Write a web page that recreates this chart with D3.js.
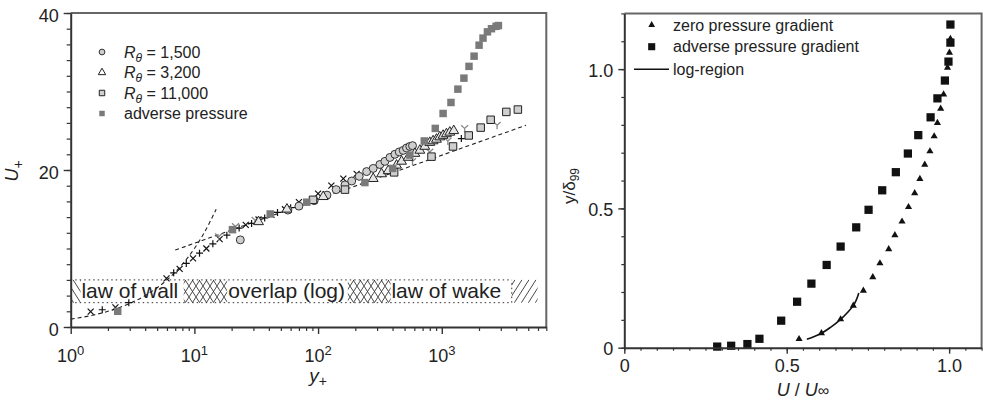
<!DOCTYPE html>
<html>
<head>
<meta charset="utf-8">
<script src="https://cdn.jsdelivr.net/npm/d3@7"></script>
<style>
  body { margin: 0; background: #fff; }
  svg { font-family: "Liberation Sans", Arial, sans-serif; }
</style>
</head>
<body>
<div id="chart"></div>
<script>
// ---- left panel data (y+ , U+) ----
var r1500Y = [23.5, 57, 70, 93, 118, 140, 165, 187, 215, 247, 279, 316, 347, 381, 418, 453, 488, 519, 552, 580];
var r1500U = [11.1, 14.9, 15.4, 16.1, 16.8, 17.5, 18.1, 18.6, 19.2, 19.8, 20.2, 20.7, 21.1, 21.6, 22.0, 22.3, 22.5, 22.8, 23.0, 23.1];
var r3200Y = [33, 56, 110, 279, 326, 369, 431, 473, 535, 606, 665, 729, 800, 851, 906, 963, 1025, 1091, 1161, 1250];
var r3200U = [13.4, 15.0, 16.6, 18.9, 19.5, 19.9, 20.6, 21.1, 21.6, 22.1, 22.5, 23.0, 23.5, 23.7, 23.9, 24.2, 24.4, 24.6, 24.8, 25.0];
var r11kY = [91, 165, 412, 826, 1233, 1652, 2064, 2485, 3326, 4124];
var r11kU = [16.2, 17.5, 19.7, 21.7, 23.0, 24.4, 25.4, 26.4, 27.4, 27.7];
var advY = [2.4, 20.3, 41, 81, 239, 401, 552, 722, 886, 1025, 1187, 1350, 1510, 1660, 1825, 2003, 2155, 2340, 2522, 2750, 2870];
var advU = [2.0, 12.4, 14.4, 15.9, 18.4, 20.2, 21.9, 23.7, 25.3, 27.2, 28.6, 30.3, 31.7, 33.2, 34.5, 35.9, 36.8, 37.6, 38.0, 38.3, 38.4];
var crossY = [1.45, 2.3, 5.95, 7.6, 9.75, 12.5, 16, 20.5, 26, 33, 42, 54, 70, 100, 128, 160, 205];
var crossU = [1.95, 2.5, 6.2, 7.4, 8.75, 10.0, 11.2, 12.4, 13.0, 13.7, 14.3, 15.0, 15.9, 17.0, 18.0, 18.9, 19.5];
var plusY = [1.8, 2.95, 6.8, 8.6, 11, 14.1, 18.3, 23, 29, 37, 47, 60, 1440];
var plusU = [2.2, 3.1, 6.9, 8.1, 9.4, 10.6, 11.7, 12.6, 13.2, 13.9, 14.6, 15.2, 24.0];
var forkY = [15.7, 21.5, 31, 580, 800, 1120, 1530, 2800];
var forkU = [11.5, 12.8, 13.6, 21.1, 22.3, 23.7, 25.3, 25.7];

// dashed reference lines
var viscY = [1, 1.5, 2, 3, 4, 5, 6, 8, 10, 12, 15];
var viscU = [1, 1.5, 2, 3, 4, 5, 6, 8, 10, 12, 15];
var logLawY = [7, 4800];
var logLawU = [9.8, 25.7];

// region band
var bandLow = 3.1, bandHigh = 6.0, bandEnd = 3680;
var hatchFrom = [1, 8.2, 174, 3680];
var hatchTo = [1.2, 18.4, 386, 5950];
var hatchKind = ["back", "cross", "cross", "fwd"];
var bandLabels = ["law of wall", "overlap (log)", "law of wake"];
var bandLabelAt = [1.22, 18.8, 392];

var legendLeft = ["1,500", "3,200", "11,000", "adverse pressure"];

// ---- right panel data (U/Uinf , y/delta99) ----
var zpgU = [0.538, 0.607, 0.666, 0.705, 0.736, 0.765, 0.787, 0.814, 0.833, 0.855, 0.875, 0.894, 0.910, 0.925, 0.941, 0.954, 0.964, 0.974, 0.983, 0.989, 0.995, 1.001, 1.004];
var zpgY = [0.031, 0.052, 0.102, 0.151, 0.205, 0.253, 0.303, 0.354, 0.404, 0.453, 0.505, 0.555, 0.606, 0.657, 0.705, 0.759, 0.807, 0.858, 0.909, 0.957, 1.005, 1.059, 1.109];
var apgU = [0.286, 0.329, 0.379, 0.416, 0.483, 0.532, 0.576, 0.623, 0.666, 0.714, 0.752, 0.794, 0.836, 0.873, 0.905, 0.943, 0.964, 0.987, 0.998, 1.004, 1.004];
var apgY = [0.004, 0.007, 0.013, 0.032, 0.097, 0.165, 0.230, 0.297, 0.363, 0.432, 0.495, 0.565, 0.630, 0.697, 0.763, 0.827, 0.895, 0.959, 1.027, 1.095, 1.16];
var logRegU = [0.562, 0.585, 0.607, 0.637, 0.666, 0.690, 0.705, 0.722];
var logRegY = [0.030, 0.040, 0.052, 0.075, 0.102, 0.130, 0.151, 0.196];
var legendRight = ["zero pressure gradient", "adverse pressure gradient", "log-region"];

function zip(a, b) { return a.map(function (v, i) { return [v, b[i]]; }); }

var svg = d3.select("#chart").append("svg")
    .attr("width", 983).attr("height", 401);

var axisCol = "#333", frameCol = "#666";

// hatch patterns
var defs = svg.append("defs");
function pattern(id, d) {
    defs.append("pattern").attr("id", id)
        .attr("patternUnits", "userSpaceOnUse")
        .attr("width", 7).attr("height", 11)
        .append("path").attr("d", d)
        .attr("stroke", "#333").attr("stroke-width", 0.9).attr("fill", "none");
}
pattern("back", "M0,0L7,11M-7,0L0,11M7,0L14,11");
pattern("fwd", "M0,11L7,0M-7,11L0,0M7,11L14,0");
pattern("cross", "M0,0L7,11M7,0L0,11");

// ================= LEFT PANEL =================
var xL = d3.scaleLog().domain([1, 7000]).range([70.7, 546.3]);
var yL = d3.scaleLinear().domain([0, 40]).range([327, 13]);
var gL = svg.append("g");

// band with hatching
hatchFrom.forEach(function (f, i) {
    gL.append("rect")
        .attr("x", xL(f)).attr("width", xL(hatchTo[i]) - xL(f))
        .attr("y", yL(bandHigh)).attr("height", yL(bandLow) - yL(bandHigh))
        .attr("fill", "url(#" + hatchKind[i] + ")");
});
[bandLow, bandHigh].forEach(function (v) {
    gL.append("line")
        .attr("x1", xL(1)).attr("x2", xL(bandEnd))
        .attr("y1", yL(v)).attr("y2", yL(v))
        .attr("stroke", "#333").attr("stroke-width", 1).attr("stroke-dasharray", "1.5,3");
});
gL.append("line")
    .attr("x1", xL(bandEnd)).attr("x2", xL(bandEnd))
    .attr("y1", yL(bandLow)).attr("y2", yL(bandHigh))
    .attr("stroke", "#333").attr("stroke-width", 1).attr("stroke-dasharray", "1.5,3");
bandLabels.forEach(function (t, i) {
    gL.append("text").attr("x", xL(bandLabelAt[i])).attr("y", yL(bandLow) - 4.5)
        .attr("font-size", 21).attr("fill", "#222").text(t);
});

// dashed lines
var lineL = d3.line().x(function (d) { return xL(d[0]); }).y(function (d) { return yL(d[1]); });
gL.append("path").datum(zip(viscY, viscU)).attr("d", lineL.curve(d3.curveMonotoneX))
    .attr("fill", "none").attr("stroke", "#222").attr("stroke-width", 1.1).attr("stroke-dasharray", "4,3");
gL.append("path").datum(zip(logLawY, logLawU)).attr("d", d3.line().x(function (d) { return xL(d[0]); }).y(function (d) { return yL(d[1]); }))
    .attr("fill", "none").attr("stroke", "#222").attr("stroke-width", 1.1).attr("stroke-dasharray", "4,3");

// markers
var crossPath = "M-3,-3L3,3M-3,3L3,-3";
var plusPath = "M-3.5,0L3.5,0M0,-3.5L0,3.5";
var forkPath = "M0,0L0,4M0,0L-3.5,-3.2M0,0L3.5,-3.2";

function drawPath(g, data, xs, ys, d, col, w) {
    g.selectAll(null).data(data).enter().append("path")
        .attr("transform", function (p) { return "translate(" + xs(p[0]) + "," + ys(p[1]) + ")"; })
        .attr("d", d).attr("fill", "none").attr("stroke", col).attr("stroke-width", w);
}
function drawSym(g, data, xs, ys, type, size, fill, stroke, w) {
    g.selectAll(null).data(data).enter().append("path")
        .attr("transform", function (p) { return "translate(" + xs(p[0]) + "," + ys(p[1]) + ")"; })
        .attr("d", d3.symbol().type(type).size(size)())
        .attr("fill", fill).attr("stroke", stroke).attr("stroke-width", w);
}

drawPath(gL, zip(crossY, crossU), xL, yL, crossPath, "#111", 1.2);
drawPath(gL, zip(plusY, plusU), xL, yL, plusPath, "#111", 1.2);
drawPath(gL, zip(forkY, forkU), xL, yL, forkPath, "#888", 1.3);
drawSym(gL, zip(r1500Y, r1500U), xL, yL, d3.symbolCircle, 50, "#cfcfcf", "#333", 1);
drawSym(gL, zip(r3200Y, r3200U), xL, yL, d3.symbolTriangle, 42, "#e6e6e6", "#222", 1);
drawSym(gL, zip(r11kY, r11kU), xL, yL, d3.symbolSquare, 56, "#cfcfcf", "#222", 1);
drawSym(gL, zip(advY, advU), xL, yL, d3.symbolSquare, 56, "#7a7a7a", "none", 0);

// frame (top, right)
gL.append("path")
    .attr("d", "M" + xL.range()[0] + "," + yL.range()[1] + "H" + xL.range()[1] + "V" + yL.range()[0])
    .attr("fill", "none").attr("stroke", frameCol).attr("stroke-width", 2);

// axes
var minorX = [];
[1, 10, 100, 1000].forEach(function (dec) {
    for (var m = 2; m <= 9; m++) if (dec * m <= 7000) minorX.push(dec * m);
});
var majorX = [1, 10, 100, 1000];
gL.append("g").attr("transform", "translate(0," + yL(0) + ")")
    .call(d3.axisBottom(xL).tickValues(minorX).tickSize(4).tickSizeOuter(0).tickFormat(""))
    .call(function (g) { g.select(".domain").remove(); g.selectAll("line").attr("stroke", axisCol).attr("stroke-width", 1.2); });
gL.append("g").attr("transform", "translate(0," + yL(0) + ")")
    .call(d3.axisBottom(xL).tickValues(majorX).tickSize(7).tickSizeOuter(0).tickFormat(""))
    .call(function (g) { g.select(".domain").attr("stroke", axisCol).attr("stroke-width", 2); g.selectAll("line").attr("stroke", axisCol).attr("stroke-width", 1.4); });
majorX.forEach(function (v, i) {
    var t = gL.append("text").attr("x", xL(v)).attr("y", 362).attr("text-anchor", "middle")
        .attr("font-size", 18).attr("fill", "#222");
    t.append("tspan").text("10");
    t.append("tspan").attr("dy", -7).attr("font-size", 13).text(String(i));
});

var minorY = d3.range(0, 41, 2);
gL.append("g").attr("transform", "translate(" + xL(1) + ",0)")
    .call(d3.axisLeft(yL).tickValues(minorY).tickSize(4).tickSizeOuter(0).tickFormat(""))
    .call(function (g) { g.select(".domain").attr("stroke", axisCol).attr("stroke-width", 2); g.selectAll("line").attr("stroke", axisCol).attr("stroke-width", 1.2); });
gL.append("g").attr("transform", "translate(" + xL(1) + ",0)")
    .call(d3.axisLeft(yL).tickValues([0, 20, 40]).tickSize(7).tickSizeOuter(0).tickPadding(5))
    .call(function (g) {
        g.select(".domain").remove();
        g.selectAll("line").attr("stroke", axisCol).attr("stroke-width", 1.4);
        g.selectAll("text").attr("font-size", 18).attr("fill", "#222").attr("font-family", null).attr("dy", "0.45em");
    });

// axis titles
var yt = gL.append("text").attr("transform", "translate(18,171) rotate(-90)")
    .attr("text-anchor", "middle").attr("font-size", 18).attr("fill", "#222");
yt.append("tspan").attr("font-style", "italic").text("U");
yt.append("tspan").attr("dy", 5).attr("font-size", 14).text("+");
var xt = gL.append("text").attr("x", 318).attr("y", 382)
    .attr("text-anchor", "middle").attr("font-size", 19).attr("fill", "#222");
xt.append("tspan").attr("font-style", "italic").text("y");
xt.append("tspan").attr("dy", 4).attr("font-size", 14).text("+");

// legend
var legY0 = 52, legDy = 20.5;
var legG = gL.append("g");
var legSyms = [
    [d3.symbolCircle, 26, "#cfcfcf", "#333", 1],
    [d3.symbolTriangle, 24, "#ffffff", "#222", 1],
    [d3.symbolSquare, 30, "#cfcfcf", "#222", 1],
    [d3.symbolSquare, 30, "#7a7a7a", "none", 0]
];
legendLeft.forEach(function (lab, i) {
    var s = legSyms[i];
    legG.append("path").attr("transform", "translate(102," + (legY0 + i * legDy) + ")")
        .attr("d", d3.symbol().type(s[0]).size(s[1])())
        .attr("fill", s[2]).attr("stroke", s[3]).attr("stroke-width", s[4]);
    var t = legG.append("text").attr("x", 124).attr("y", legY0 + i * legDy + 5.5)
        .attr("font-size", 16).attr("fill", "#222");
    if (i < 3) {
        t.append("tspan").attr("font-style", "italic").text("R");
        t.append("tspan").attr("font-style", "italic").attr("dy", 4).attr("font-size", 12).text("θ");
        t.append("tspan").attr("dy", -4).text(" = " + lab);
    } else {
        t.text(lab);
    }
});

// ================= RIGHT PANEL =================
var xR = d3.scaleLinear().domain([0, 1.1]).range([624.3, 981.6]);
var yR = d3.scaleLinear().domain([0, 1.2]).range([347.7, 13.4]);
var gR = svg.append("g");

gR.append("path").datum(zip(logRegU, logRegY))
    .attr("d", d3.line().x(function (d) { return xR(d[0]); }).y(function (d) { return yR(d[1]); }).curve(d3.curveMonotoneY))
    .attr("fill", "none").attr("stroke", "#111").attr("stroke-width", 1.6);
drawSym(gR, zip(zpgU, zpgY), xR, yR, d3.symbolTriangle, 22, "#111", "none", 0);
drawSym(gR, zip(apgU, apgY), xR, yR, d3.symbolSquare, 68, "#111", "none", 0);

gR.append("path")
    .attr("d", "M" + xR.range()[0] + "," + yR.range()[1] + "H" + xR.range()[1] + "V" + yR.range()[0])
    .attr("fill", "none").attr("stroke", frameCol).attr("stroke-width", 2);

gR.append("g").attr("transform", "translate(0," + yR(0) + ")")
    .call(d3.axisBottom(xR).tickValues(d3.range(0, 1.101, 0.05)).tickSize(3).tickSizeOuter(0).tickFormat(""))
    .call(function (g) { g.select(".domain").attr("stroke", axisCol).attr("stroke-width", 2); g.selectAll("line").attr("stroke", axisCol).attr("stroke-width", 1.2); });
gR.append("g").attr("transform", "translate(0," + yR(0) + ")")
    .call(d3.axisBottom(xR).tickValues([0, 0.5, 1.0]).tickSize(6).tickSizeOuter(0).tickPadding(6)
        .tickFormat(function (d) { return d === 0 ? "0" : d3.format(".1f")(d); }))
    .call(function (g) {
        g.select(".domain").remove();
        g.selectAll("line").attr("stroke", axisCol).attr("stroke-width", 1.4);
        g.selectAll("text").attr("font-size", 18).attr("fill", "#222").attr("font-family", null);
    });
gR.append("g").attr("transform", "translate(" + xR(0) + ",0)")
    .call(d3.axisLeft(yR).tickValues(d3.range(0, 1.201, 0.1)).tickSize(3).tickSizeOuter(0).tickFormat(""))
    .call(function (g) { g.select(".domain").attr("stroke", axisCol).attr("stroke-width", 2); g.selectAll("line").attr("stroke", axisCol).attr("stroke-width", 1.2); });
gR.append("g").attr("transform", "translate(" + xR(0) + ",0)")
    .call(d3.axisLeft(yR).tickValues([0, 0.5, 1.0]).tickSize(6).tickSizeOuter(0).tickPadding(5)
        .tickFormat(function (d) { return d === 0 ? "0" : d3.format(".1f")(d); }))
    .call(function (g) {
        g.select(".domain").remove();
        g.selectAll("line").attr("stroke", axisCol).attr("stroke-width", 1.4);
        g.selectAll("text").attr("font-size", 18).attr("fill", "#222").attr("font-family", null).attr("dy", "0.4em");
    });

var ryt = gR.append("text").attr("transform", "translate(575,186) rotate(-90)")
    .attr("text-anchor", "middle").attr("font-size", 17).attr("fill", "#222");
ryt.append("tspan").text("y/δ");
ryt.append("tspan").attr("dy", 4).attr("font-size", 12).text("99");
var rxt = gR.append("text").attr("x", 803).attr("y", 396)
    .attr("text-anchor", "middle").attr("font-size", 18).attr("fill", "#222");
rxt.append("tspan").attr("font-style", "italic").text("U");
rxt.append("tspan").text(" / ");
rxt.append("tspan").attr("font-style", "italic").text("U");
rxt.append("tspan").attr("font-size", 16).text("∞");

// right legend
var rl = gR.append("g");
rl.append("path").attr("transform", "translate(651.7,25)").attr("d", d3.symbol().type(d3.symbolTriangle).size(20)()).attr("fill", "#111");
rl.append("path").attr("transform", "translate(651.7,46.7)").attr("d", d3.symbol().type(d3.symbolSquare).size(50)()).attr("fill", "#111");
rl.append("line").attr("x1", 634).attr("x2", 669).attr("y1", 69.3).attr("y2", 69.3).attr("stroke", "#111").attr("stroke-width", 1.6);
legendRight.forEach(function (t, i) {
    rl.append("text").attr("x", 673).attr("y", [25, 46.7, 69.3][i] + 5.5)
        .attr("font-size", 16).attr("fill", "#222").text(t);
});
</script>
</body>
</html>
